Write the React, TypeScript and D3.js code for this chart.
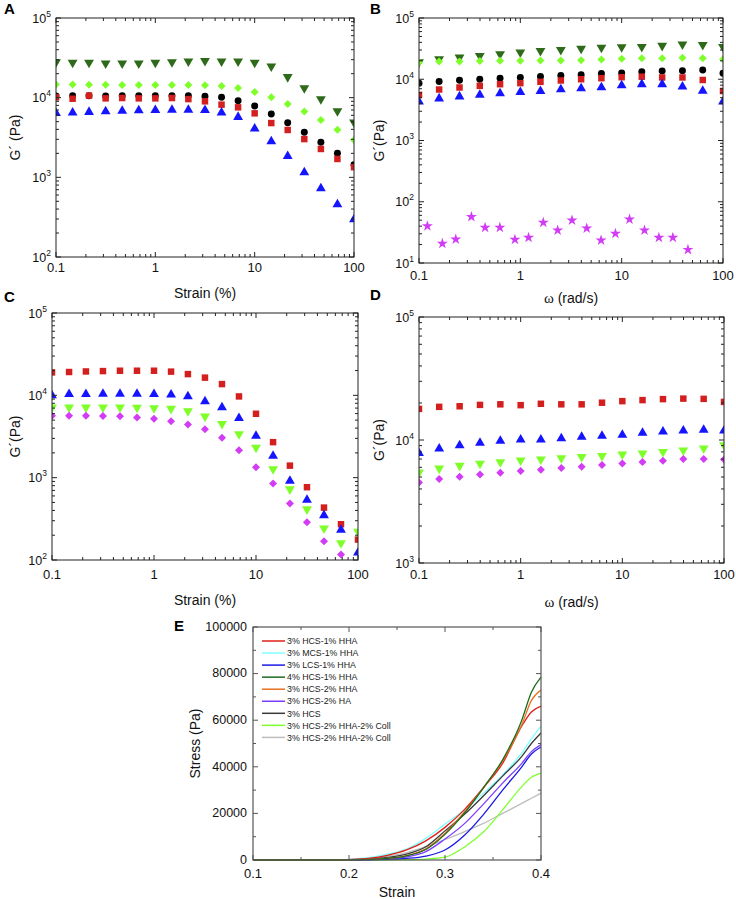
import React from "react";
import * as d3 from "d3";

// ---------- DATA ----------
// Panel A: strain sweep (6 points / decade)
const strainPts = [0.1, 0.147, 0.215, 0.316, 0.464, 0.681, 1, 1.47, 2.15, 3.16, 4.64, 6.81, 10, 14.7, 21.5, 31.6, 46.4, 68.1, 100];
const A_darkGreen = [28000, 27500, 27500, 27000, 27000, 27000, 27500, 28000, 28500, 29000, 28500, 28500, 27500, 24700, 18200, 13200, 9600, 6800, 4900];
const A_lightGreen = [14600, 14600, 14500, 14500, 14400, 14400, 14400, 14400, 14400, 14300, 14000, 13200, 11800, 10100, 8300, 6700, 5250, 3960, 2950];
const A_black = [10500, 10600, 10600, 10500, 10600, 10600, 10600, 10600, 10600, 10400, 10100, 9160, 7850, 6230, 4850, 3670, 2750, 2000, 1440];
const A_red = [10100, 9700, 10600, 9800, 9900, 9800, 9800, 9900, 9600, 9000, 8170, 7560, 6360, 4800, 3930, 3020, 2270, 1700, 1340];
const A_blue = [6400, 6500, 6600, 6700, 6800, 6900, 6980, 7000, 7000, 6950, 6500, 5710, 4080, 2830, 1840, 1150, 728, 458, 297];

// Panel B: frequency sweep (5 points / decade)
const freqPts = [0.1, 0.158, 0.251, 0.398, 0.631, 1, 1.58, 2.51, 3.98, 6.31, 10, 15.8, 25.1, 39.8, 63.1, 100];
const B_darkGreen = [19000, 21300, 22700, 24200, 25700, 27400, 29200, 30300, 31800, 32800, 33400, 33900, 35300, 37200, 36500, 33900];
const B_lightGreen = [18800, 19500, 19500, 19900, 20000, 20000, 20200, 20200, 20500, 21000, 21600, 22000, 22000, 22500, 22000, 21200];
const B_black = [8630, 9190, 9660, 10000, 10400, 10700, 11100, 11500, 11800, 12400, 12700, 13300, 13650, 13800, 14200, 12500];
const B_red = [5560, 6800, 7330, 7800, 8300, 8630, 9080, 9550, 10000, 10400, 10800, 11000, 10700, 10700, 9730, 6430];
const B_blue = [4320, 4840, 5220, 5560, 5850, 6150, 6390, 6800, 7060, 7330, 7900, 8270, 8270, 7590, 6430, 4300];
const B_starFreq = [0.121, 0.17, 0.2305, 0.329, 0.449, 0.628, 0.884, 1.206, 1.685, 2.335, 3.236, 4.52, 6.26, 8.68, 11.95, 16.8, 23.3, 32.0, 45.1];
const B_star = [40, 20.7, 24.4, 56.6, 37.9, 37.9, 24.1, 26, 45.7, 34.3, 49.9, 36.9, 23.5, 30.2, 51.8, 34.3, 26, 26, 16.5];

// Panel C: strain sweep
const C_red = [19000, 19200, 19500, 19700, 19900, 19900, 19900, 19400, 18100, 16400, 13700, 9700, 5970, 2700, 1400, 766, 433, 272, 177];
const C_blue = [9980, 10350, 10350, 10400, 10400, 10400, 10350, 10200, 9700, 8440, 7130, 5290, 3220, 1840, 914, 537, 349, 232, 123];
const C_green = [7130, 7150, 7150, 7150, 7130, 7100, 7000, 6880, 6430, 5540, 4510, 3380, 2320, 1270, 724, 414, 243, 161, 221];
const C_magenta = [5650, 5650, 5650, 5600, 5560, 5380, 5190, 4860, 4430, 3880, 3050, 2160, 1340, 849, 485, 287, 169, 117];

// Panel D: frequency sweep
const D_red = [17900, 18600, 18800, 19300, 19500, 19200, 19700, 19500, 19500, 20100, 20700, 21100, 21500, 21700, 21600, 20400];
const D_blue = [7830, 8490, 9050, 9460, 9820, 10070, 10070, 10300, 10600, 10800, 11000, 11400, 11700, 11900, 12100, 11900];
const D_green = [5450, 5870, 6180, 6420, 6620, 6830, 6960, 7130, 7310, 7450, 7640, 7790, 8030, 8240, 8550, 9100];
const D_magenta = [4520, 4810, 5030, 5250, 5420, 5590, 5730, 5920, 6070, 6260, 6450, 6620, 6790, 7000, 7000, 6940];

// Panel E: compressive stress-strain curves
const E_strain = [0.1, 0.18, 0.2, 0.22, 0.24, 0.26, 0.28, 0.3, 0.32, 0.34, 0.36, 0.38, 0.39, 0.4];
const E_names = [
  "3% HCS-1% HHA",
  "3% MCS-1% HHA",
  "3% LCS-1% HHA",
  "4% HCS-1% HHA",
  "3% HCS-2% HHA",
  "3% HCS-2% HA",
  "3% HCS",
  "3% HCS-2% HHA-2% Coll",
  "3% HCS-2% HHA-2% Coll",
];
const E_hcs1hha = [0, 0, 200, 700, 2000, 4300, 8200, 14000, 21500, 31000, 41500, 57500, 63500, 66000];
const E_mcs1hha = [0, 0, 300, 1000, 2500, 4700, 9300, 15400, 21500, 28600, 36500, 46000, 52000, 57500];
const E_lcs1hha = [0, 0, 0, 100, 300, 700, 1700, 4300, 10500, 19500, 30000, 40000, 45500, 48500];
const E_4hcs1hha = [0, 0, 50, 250, 700, 1800, 4500, 11000, 20000, 31000, 43000, 60000, 72000, 78500];
const E_hcs2hha = [0, 0, 50, 250, 700, 1900, 4800, 11500, 20500, 31000, 42500, 58000, 68500, 73000];
const E_hcs2ha = [0, 0, 50, 200, 500, 1300, 3600, 9000, 15500, 24000, 33000, 41500, 46500, 49500];
const E_hcs = [0, 0, 100, 400, 1100, 2500, 5700, 12500, 19500, 27500, 36000, 44500, 50000, 54500];
const E_coll1 = [0, 0, 0, 0, 50, 150, 400, 1200, 5500, 12000, 21500, 31500, 35500, 37300];
const E_coll2 = [0, 0, 200, 700, 1700, 3200, 5700, 8800, 12100, 15700, 20000, 24300, 26500, 28700];
const E_xTicks = [0.1, 0.2, 0.3, 0.4];
const E_yTicks = [0, 20000, 40000, 60000, 80000, 100000];

// ---------- STYLE ----------
const FONT = "'Liberation Sans', Arial, Helvetica, sans-serif";
const C = {
  red: "#d41f1f",
  black: "#000000",
  blue: "#1414ff",
  dkgreen: "#2f6a1a",
  ltgreen: "#7fff2a",
  magenta: "#d23cf5",
};
const E_colors = ["#e0201a", "#80ffff", "#1a1ae6", "#1e6b1e", "#e87020", "#7b3cff", "#3a3a3a", "#80ff30", "#bdbdbd"];

type Shape = "square" | "circle" | "up" | "down" | "diamond" | "star";
type Series = { xs: number[]; ys: number[]; color: string; shape: Shape };

function symbolPath(shape: Shape): { d: string; rot: number } {
  const gen = d3.symbol();
  switch (shape) {
    case "square":
      return { d: gen.type(d3.symbolSquare).size(42)() as string, rot: 0 };
    case "circle":
      return { d: gen.type(d3.symbolCircle).size(38)() as string, rot: 0 };
    case "up":
      return { d: gen.type(d3.symbolTriangle).size(42)() as string, rot: 0 };
    case "down":
      return { d: gen.type(d3.symbolTriangle).size(42)() as string, rot: 180 };
    case "diamond":
      return { d: gen.type(d3.symbolSquare).size(32)() as string, rot: 45 };
    case "star":
      return { d: gen.type(d3.symbolStar).size(38)() as string, rot: 0 };
  }
}

type PanelProps = {
  id: string;
  left: number;
  right: number;
  top: number;
  bottom: number;
  yMin: number;
  yMax: number;
  series: Series[];
  xTitle: React.ReactNode;
  yTitle: string;
  tickLabelY: number;
  xTitleY: number;
  yTitleX: number;
  label: string;
  labelX: number;
  labelY: number;
};

function LogPanel(p: PanelProps) {
  const x = d3.scaleLog().domain([0.1, 100]).range([p.left, p.right]);
  const y = d3.scaleLog().domain([p.yMin, p.yMax]).range([p.bottom, p.top]);
  const xTicks: { v: number; major: boolean }[] = [];
  for (let e = -1; e < 2; e++) for (let k = 1; k <= 9; k++) xTicks.push({ v: k * Math.pow(10, e), major: k === 1 });
  xTicks.push({ v: 100, major: true });
  const yTicks: { v: number; major: boolean }[] = [];
  const e0 = Math.round(Math.log10(p.yMin));
  const e1 = Math.round(Math.log10(p.yMax));
  for (let e = e0; e < e1; e++) for (let k = 1; k <= 9; k++) yTicks.push({ v: k * Math.pow(10, e), major: k === 1 });
  yTicks.push({ v: p.yMax, major: true });
  const yMajors = d3.range(e0, e1 + 1);
  const xMajors = [0.1, 1, 10, 100];
  const clipId = "clip" + p.id;
  const stroke = "#222";
  return (
    <g>
      <defs>
        <clipPath id={clipId}>
          <rect x={p.left} y={p.top} width={p.right - p.left} height={p.bottom - p.top} />
        </clipPath>
      </defs>
      <g clipPath={`url(#${clipId})`}>
        {p.series.map((s, si) => {
          const sym = symbolPath(s.shape);
          return (
            <g key={si}>
              {s.ys.map((v, i) => (
                <path
                  key={i}
                  d={sym.d}
                  fill={s.color}
                  transform={`translate(${x(s.xs[i])},${y(v)}) rotate(${sym.rot})`}
                />
              ))}
            </g>
          );
        })}
      </g>
      <rect x={p.left} y={p.top} width={p.right - p.left} height={p.bottom - p.top} fill="none" stroke={stroke} strokeWidth={1} />
      {xTicks.map((t, i) => {
        const xx = x(t.v);
        const len = t.major ? 5 : 3;
        return (
          <g key={"xt" + i} stroke={stroke} strokeWidth={1}>
            <line x1={xx} x2={xx} y1={p.bottom} y2={p.bottom - len} />
            <line x1={xx} x2={xx} y1={p.top} y2={p.top + len} />
          </g>
        );
      })}
      {yTicks.map((t, i) => {
        const yy = y(t.v);
        const len = t.major ? 5 : 3;
        return (
          <g key={"yt" + i} stroke={stroke} strokeWidth={1}>
            <line x1={p.left} x2={p.left + len} y1={yy} y2={yy} />
            <line x1={p.right} x2={p.right - len} y1={yy} y2={yy} />
          </g>
        );
      })}
      {xMajors.map((v) => (
        <text key={"xl" + v} x={x(v)} y={p.tickLabelY} textAnchor="middle" fontSize={13} fontFamily={FONT} fill="#111">
          {String(v)}
        </text>
      ))}
      {yMajors.map((e) => (
        <text key={"yl" + e} x={p.left - 5} y={y(Math.pow(10, e)) + 4.5} textAnchor="end" fontSize={12.5} fontFamily={FONT} fill="#111">
          10
          <tspan dy={-6} fontSize={8.5}>
            {e}
          </tspan>
        </text>
      ))}
      <text x={(p.left + p.right) / 2} y={p.xTitleY} textAnchor="middle" fontSize={14} fontFamily={FONT} fill="#111">
        {p.xTitle}
      </text>
      <text
        transform={`translate(${p.yTitleX},${(p.top + p.bottom) / 2}) rotate(-90)`}
        textAnchor="middle"
        fontSize={14}
        fontFamily={FONT}
        fill="#111"
      >
        {p.yTitle}
      </text>
      <text x={p.labelX} y={p.labelY} fontSize={15} fontWeight="bold" fontFamily={FONT} fill="#000">
        {p.label}
      </text>
    </g>
  );
}

const omegaTitle = (
  <>
    <tspan fontFamily="'Liberation Serif', 'Times New Roman', serif" fontSize={15}>
      ω
    </tspan>
    <tspan> (rad/s)</tspan>
  </>
);

function PanelE() {
  const left = 253,
    right = 541,
    top = 627,
    bottom = 860;
  const x = d3.scaleLinear().domain([0.1, 0.4]).range([left, right]);
  const y = d3.scaleLinear().domain([0, 100000]).range([bottom, top]);
  const line = d3
    .line<number>()
    .x((_, i) => x(E_strain[i]))
    .y((d) => y(d))
    .curve(d3.curveMonotoneX);
  const curves = [E_hcs1hha, E_mcs1hha, E_lcs1hha, E_4hcs1hha, E_hcs2hha, E_hcs2ha, E_hcs, E_coll1, E_coll2];
  const drawOrder = [8, 7, 1, 6, 5, 2, 0, 4, 3];
  const stroke = "#555";
  const xMinor = d3.range(0.1, 0.4001, 0.05);
  const yMinor = d3.range(0, 100001, 10000);
  return (
    <g>
      {drawOrder.map((ci) => (
        <path key={ci} d={line(curves[ci]) as string} fill="none" stroke={E_colors[ci]} strokeWidth={1.3} />
      ))}
      <rect x={left} y={top} width={right - left} height={bottom - top} fill="none" stroke={stroke} strokeWidth={1.2} />
      {xMinor.map((v, i) => {
        const major = E_xTicks.some((t) => Math.abs(t - v) < 1e-6);
        const len = major ? 5 : 3;
        const xx = x(v);
        return (
          <g key={"ex" + i} stroke={stroke}>
            <line x1={xx} x2={xx} y1={bottom} y2={bottom - len} />
            <line x1={xx} x2={xx} y1={top} y2={top + len} />
          </g>
        );
      })}
      {yMinor.map((v, i) => {
        const major = E_yTicks.includes(v);
        const len = major ? 5 : 3;
        const yy = y(v);
        return (
          <g key={"ey" + i} stroke={stroke}>
            <line x1={left} x2={left + len} y1={yy} y2={yy} />
            <line x1={right} x2={right - len} y1={yy} y2={yy} />
          </g>
        );
      })}
      {E_xTicks.map((v) => (
        <text key={"exl" + v} x={x(v)} y={877.5} textAnchor="middle" fontSize={13} fontFamily={FONT} fill="#111">
          {String(v)}
        </text>
      ))}
      {E_yTicks.map((v) => (
        <text key={"eyl" + v} x={left - 6} y={y(v) + 3.8} textAnchor="end" fontSize={12.5} fontFamily={FONT} fill="#111">
          {String(v)}
        </text>
      ))}
      <text x={(left + right) / 2} y={897} textAnchor="middle" fontSize={14} fontFamily={FONT} fill="#111">
        Strain
      </text>
      <text transform={`translate(200,${(top + bottom) / 2}) rotate(-90)`} textAnchor="middle" fontSize={14} fontFamily={FONT} fill="#111">
        Stress (Pa)
      </text>
      <text x={174} y={631} fontSize={15} fontWeight="bold" fontFamily={FONT} fill="#000">
        E
      </text>
      {E_names.map((n, i) => {
        const yy = 641 + i * 12.05;
        return (
          <g key={"lg" + i}>
            <line x1={262} x2={285} y1={yy} y2={yy} stroke={E_colors[i]} strokeWidth={1.5} />
            <text x={287} y={yy + 3.2} fontSize={8.8} fontFamily={FONT} fill="#222">
              {n}
            </text>
          </g>
        );
      })}
    </g>
  );
}

export default function App() {
  const seriesA: Series[] = [
    { xs: strainPts, ys: A_darkGreen, color: C.dkgreen, shape: "down" },
    { xs: strainPts, ys: A_lightGreen, color: C.ltgreen, shape: "diamond" },
    { xs: strainPts, ys: A_black, color: C.black, shape: "circle" },
    { xs: strainPts, ys: A_red, color: C.red, shape: "square" },
    { xs: strainPts, ys: A_blue, color: C.blue, shape: "up" },
  ];
  const seriesB: Series[] = [
    { xs: freqPts, ys: B_darkGreen, color: C.dkgreen, shape: "down" },
    { xs: freqPts, ys: B_lightGreen, color: C.ltgreen, shape: "diamond" },
    { xs: freqPts, ys: B_black, color: C.black, shape: "circle" },
    { xs: freqPts, ys: B_red, color: C.red, shape: "square" },
    { xs: freqPts, ys: B_blue, color: C.blue, shape: "up" },
    { xs: B_starFreq, ys: B_star, color: C.magenta, shape: "star" },
  ];
  const seriesC: Series[] = [
    { xs: strainPts, ys: C_red, color: C.red, shape: "square" },
    { xs: strainPts, ys: C_blue, color: C.blue, shape: "up" },
    { xs: strainPts, ys: C_green, color: C.ltgreen, shape: "down" },
    { xs: strainPts, ys: C_magenta, color: C.magenta, shape: "diamond" },
  ];
  const seriesD: Series[] = [
    { xs: freqPts, ys: D_red, color: C.red, shape: "square" },
    { xs: freqPts, ys: D_blue, color: C.blue, shape: "up" },
    { xs: freqPts, ys: D_green, color: C.ltgreen, shape: "down" },
    { xs: freqPts, ys: D_magenta, color: C.magenta, shape: "diamond" },
  ];
  return (
    <svg
      width={736}
      height={899}
      viewBox="0 0 736 899"
      style={{ position: "absolute", left: 0, top: 0, background: "#fff" }}
    >
      <rect width={736} height={899} fill="#fff" />
      <LogPanel
        id="A" left={56} right={354} top={18} bottom={257} yMin={100} yMax={100000}
        series={seriesA} xTitle="Strain (%)" yTitle="G´ (Pa)" tickLabelY={271.5} xTitleY={298} yTitleX={20}
        label="A" labelX={4} labelY={14}
      />
      <LogPanel
        id="B" left={419} right={723} top={18} bottom={263} yMin={10} yMax={100000}
        series={seriesB} xTitle={omegaTitle} yTitle="G´(Pa)" tickLabelY={279.5} xTitleY={303} yTitleX={384}
        label="B" labelX={370} labelY={14}
      />
      <LogPanel
        id="C" left={52} right={358} top={313} bottom={560} yMin={100} yMax={100000}
        series={seriesC} xTitle="Strain (%)" yTitle="G´(Pa)" tickLabelY={578.5} xTitleY={605} yTitleX={20}
        label="C" labelX={4} labelY={302}
      />
      <LogPanel
        id="D" left={419} right={724} top={317} bottom={563} yMin={1000} yMax={100000}
        series={seriesD} xTitle={omegaTitle} yTitle="G´(Pa)" tickLabelY={579} xTitleY={607} yTitleX={384}
        label="D" labelX={370} labelY={300}
      />
      <PanelE />
    </svg>
  );
}
